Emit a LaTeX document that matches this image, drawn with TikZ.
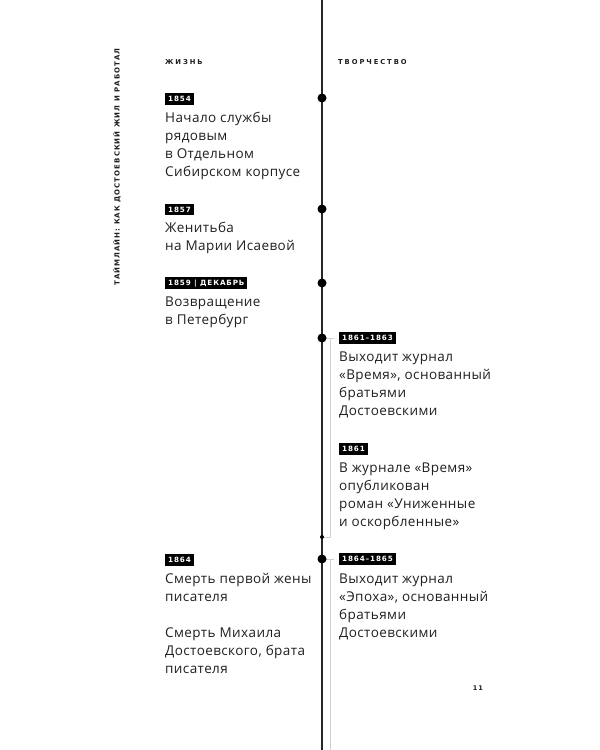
\documentclass[tikz,border=0pt]{standalone}
\usepackage{fontspec}
\setmainfont[LetterSpace=3]{Open Sans}
\newfontfamily\tagfont[LetterSpace=12]{DejaVu Sans}
\newfontfamily\headfont[LetterSpace=28]{DejaVu Sans}
\newfontfamily\sidefont[LetterSpace=15]{DejaVu Sans}
\tikzset{
  tagbox/.style={fill=black, text=white, font=\tagfont\bfseries\fontsize{7.2}{8}\selectfont,
    inner xsep=3pt, inner ysep=3pt, text height=5.4pt, text depth=0.4pt, anchor=west},
  body/.style={anchor=north west, inner sep=0pt, align=left, text=black!88,
    font=\fontsize{13.5}{18}\selectfont},
  head/.style={anchor=west, inner sep=0pt, text=black!88, font=\headfont\bfseries\fontsize{6.8}{7}\selectfont},
  bigdot/.style={circle, fill=black, inner sep=0pt, minimum size=9pt},
  smalldot/.style={circle, fill=black, inner sep=0pt, minimum size=4pt},
  axis/.style={line width=1.6pt, black!85},
  guide/.style={line width=0.8pt, black!18},
}
\begin{document}
\begin{tikzpicture}[x=1pt,y=-1pt]
\fill[white] (0,0) rectangle (600,750);
\path[use as bounding box] (0,0) rectangle (600,750);

% side title
\node[rotate=90, inner sep=0pt, text=black!88, font=\sidefont\bfseries\fontsize{7}{7}\selectfont]
  (side) at (117,167) {ТАЙМЛАЙН: КАК ДОСТОЕВСКИЙ ЖИЛ И РАБОТАЛ};

% headers
\node[head] (hlife) at (165,62) {ЖИЗНЬ};
\node[head] (hwork) at (338,62) {ТВОРЧЕСТВО};

% axis
\coordinate (top) at (322,0);
\coordinate (bot) at (322,750);
\coordinate (g1) at (334,338);
\coordinate (g2) at (330,338);
\coordinate (g3) at (330,537);
\coordinate (g4) at (334,559);
\coordinate (g5) at (330,559);
\coordinate (g6) at (330,750);
\draw[axis] (top) -- (bot);

\draw[guide] (g1) -- (top |- g1);
\draw[guide] (g2) -- (g3) -- (top |- g3);
\draw[guide] (g4) -- (top |- g4);
\draw[guide] (g5) -- (g6);

\node[bigdot] (d1) at (322,98) {};
\node[bigdot] (d2) at (322,209) {};
\node[bigdot] (d3) at (322,283) {};
\node[bigdot] (d4) at (g1 -| top) {};
\node[smalldot] (d5) at (g3 -| top) {};
\node[bigdot] (d6) at (g4 -| top) {};

% left column
\node[tagbox] (t1) at (165,99) {1854};
\node[body] (b1) at (165,109.4) {\strut Начало службы\\рядовым\\в Отдельном\\Сибирском корпусе};

\node[tagbox] (t2) at (165,209.5) {1857};
\node[body] (b2) at (165,220) {\strut Женитьба\\на Марии Исаевой};

\node[tagbox] (t3) at (165,283) {1859 | ДЕКАБРЬ};
\node[body] (b3) at (165,293.4) {\strut Возвращение\\в Петербург};

\node[tagbox] (t4) at (165,560) {1864};
\node[body] (b4) at (165,570.4) {\strut Смерть первой жены\\писателя\\[18pt]Смерть Михаила\\Достоевского, брата\\писателя};

% right column
\node[tagbox] (t5) at (339,338) {1861–1863};
\node[body] (b5) at (339,348.4) {\strut Выходит журнал\\«Время», основанный\\братьями\\Достоевскими};

\node[tagbox] (t6) at (339,449) {1861};
\node[body] (b6) at (339,459.4) {\strut В журнале «Время»\\опубликован\\роман «Униженные\\и оскорбленные»};

\node[tagbox] (t7) at (339,559) {1864–1865};
\node[body] (b7) at (339,570.4) {\strut Выходит журнал\\«Эпоха», основанный\\братьями\\Достоевскими};

% page number
\node[inner sep=0pt, text=black!88, font=\sidefont\bfseries\fontsize{6.5}{7}\selectfont] (pg) at (478,688) {11};
\end{tikzpicture}
\end{document}
